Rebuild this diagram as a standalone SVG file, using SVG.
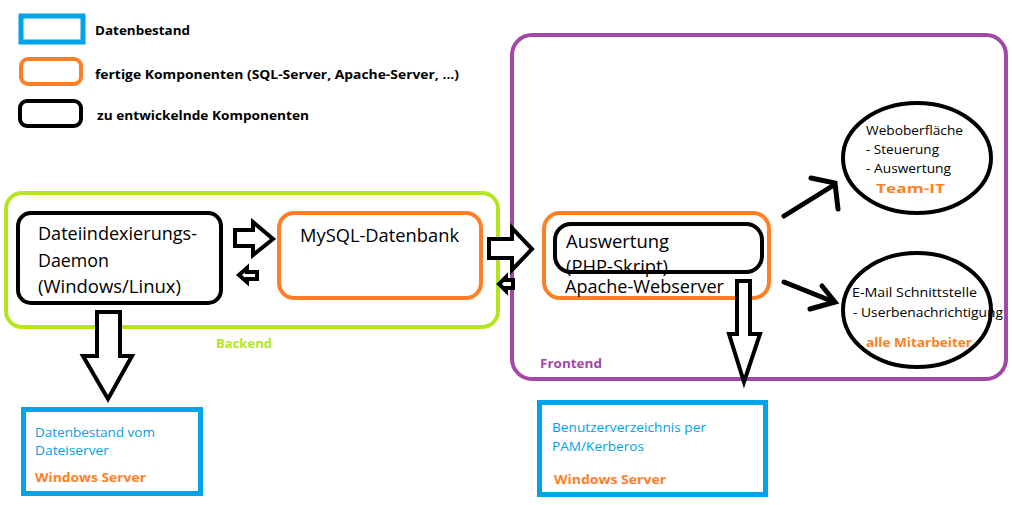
<svg xmlns="http://www.w3.org/2000/svg" width="1012" height="505" viewBox="0 0 1012 505">
<style>
text{font-family:"Open Sans","Liberation Sans",sans-serif}
.big{font-size:18px;fill:#000}
.sm{font-size:13px;fill:#000}
.lg{font-size:13px;font-weight:bold;fill:#000}
.or{font-size:13px;font-weight:bold;fill:#ff7f27}
.bl{font-size:13px;fill:#00a2e8}
.blk{fill:none;stroke:#000;stroke-width:4}
.org{fill:none;stroke:#ff7f27;stroke-width:4}
.blu{fill:none;stroke:#00a2e8;stroke-width:5}
.arr{fill:#fff;stroke:#000;stroke-width:4;stroke-linejoin:miter}
.ln{fill:none;stroke:#000;stroke-width:5;stroke-linecap:round}
</style>
<rect width="1012" height="505" fill="#fff"/>
<g id="legend">
<rect x="21" y="16" width="62" height="26" class="blu"/>
<rect x="21" y="59" width="60" height="25" rx="7" class="org" stroke-width="5"/>
<rect x="20" y="101" width="61" height="25" rx="7" class="blk" stroke-width="5"/>
<text x="95" y="35" class="lg" textLength="95" lengthAdjust="spacingAndGlyphs">Datenbestand</text>
<text x="95" y="79" class="lg" textLength="364" lengthAdjust="spacingAndGlyphs">fertige Komponenten (SQL-Server, Apache-Server, ...)</text>
<text x="97" y="120" class="lg" textLength="212" lengthAdjust="spacingAndGlyphs">zu entwickelnde Komponenten</text>
</g>
<g id="backend">
<rect x="6" y="193" width="492" height="134" rx="16" fill="none" stroke="#b5e61d" stroke-width="4"/>
<text x="216" y="348" class="lg" style="fill:#b5e61d" textLength="56" lengthAdjust="spacingAndGlyphs">Backend</text>
</g>
<g id="frontend">
<rect x="512" y="35" width="494" height="344" rx="20" fill="none" stroke="#a349a4" stroke-width="4"/>
<text x="540" y="368" class="lg" style="fill:#a349a4" textLength="62" lengthAdjust="spacingAndGlyphs">Frontend</text>
</g>
<g id="daemon">
<rect x="18" y="213" width="203" height="90" rx="13" class="blk"/>
<text x="38" y="240" class="big" textLength="159" lengthAdjust="spacingAndGlyphs">Dateiindexierungs-</text>
<text x="38" y="267" class="big" textLength="71" lengthAdjust="spacingAndGlyphs">Daemon</text>
<text x="38" y="293" class="big" textLength="143" lengthAdjust="spacingAndGlyphs">(Windows/Linux)</text>
</g>
<g id="mysql">
<rect x="279" y="213" width="202" height="85" rx="15" class="org"/>
<text x="300" y="242" class="big" textLength="159" lengthAdjust="spacingAndGlyphs">MySQL-Datenbank</text>
</g>
<g id="apache">
<rect x="544" y="213" width="225" height="85" rx="16" class="org"/>
<text x="565" y="293" class="big" textLength="159" lengthAdjust="spacingAndGlyphs">Apache-Webserver</text>
</g>
<g id="auswertung">
<text x="566" y="248" class="big" textLength="103" lengthAdjust="spacingAndGlyphs">Auswertung</text>
<text x="566" y="273" class="big" textLength="102" lengthAdjust="spacingAndGlyphs">(PHP-Skript)</text>
<rect x="555" y="224" width="207" height="48" rx="16" class="blk"/>
</g>
<g id="weboberflaeche">
<ellipse cx="917" cy="158" rx="74" ry="55" class="blk"/>
<text x="866" y="135" class="sm" textLength="97" lengthAdjust="spacingAndGlyphs">Weboberfläche</text>
<text x="866" y="154" class="sm" textLength="73" lengthAdjust="spacingAndGlyphs">- Steuerung</text>
<text x="866" y="173" class="sm" textLength="85" lengthAdjust="spacingAndGlyphs">- Auswertung</text>
<text x="876" y="193" class="or" textLength="69" lengthAdjust="spacingAndGlyphs">Team-IT</text>
</g>
<g id="email">
<ellipse cx="917" cy="310" rx="74" ry="57" class="blk"/>
<text x="852" y="297" class="sm" textLength="125" lengthAdjust="spacingAndGlyphs">E-Mail Schnittstelle</text>
<text x="853" y="317" class="sm" textLength="150" lengthAdjust="spacingAndGlyphs">- Userbenachrichtigung</text>
<text x="866" y="347" class="or" textLength="106" lengthAdjust="spacingAndGlyphs">alle Mitarbeiter</text>
</g>
<g id="dateiserver">
<rect x="23.5" y="409.5" width="177" height="84" class="blu"/>
<text x="35" y="437" class="bl" textLength="120" lengthAdjust="spacingAndGlyphs">Datenbestand vom</text>
<text x="35" y="455" class="bl" textLength="74" lengthAdjust="spacingAndGlyphs">Dateiserver</text>
<text x="35" y="482" class="or" textLength="111" lengthAdjust="spacingAndGlyphs">Windows Server</text>
</g>
<g id="benutzerverzeichnis">
<rect x="539.5" y="402.5" width="226" height="92" class="blu"/>
<text x="552" y="432" class="bl" textLength="154" lengthAdjust="spacingAndGlyphs">Benutzerverzeichnis per</text>
<text x="552" y="451" class="bl" textLength="92" lengthAdjust="spacingAndGlyphs">PAM/Kerberos</text>
<text x="554" y="484" class="or" textLength="112" lengthAdjust="spacingAndGlyphs">Windows Server</text>
</g>
<g id="connectors">
<polygon class="arr" points="235,230 253,230 253,222 273,239 253,255 253,246 235,246"/>
<polygon class="arr" points="257,272 247,272 247,268 239,275 247,282 247,279 257,279" stroke-width="3.5"/>
<polygon class="arr" points="489,239 512,239 512,228 532,249 512,270 512,258 489,258"/>
<polygon class="arr" points="513,280 506,280 506,277 499,284 506,291 506,288 513,288" stroke-width="3.5"/>
<polygon class="arr" points="97,312 120,312 120,356 132,356 108,399 83,356 97,356"/>
<polygon class="arr" points="737,281 750,281 750,334 760,334 744,382 729,334 737,334"/>
<line x1="784" y1="216" x2="834" y2="185" class="ln"/>
<polyline points="811,178 835,183 838,209" class="ln"/>
<line x1="784" y1="282" x2="834" y2="302" class="ln"/>
<polyline points="822,286 835,302 810,309" class="ln"/>
</g>
</svg>
